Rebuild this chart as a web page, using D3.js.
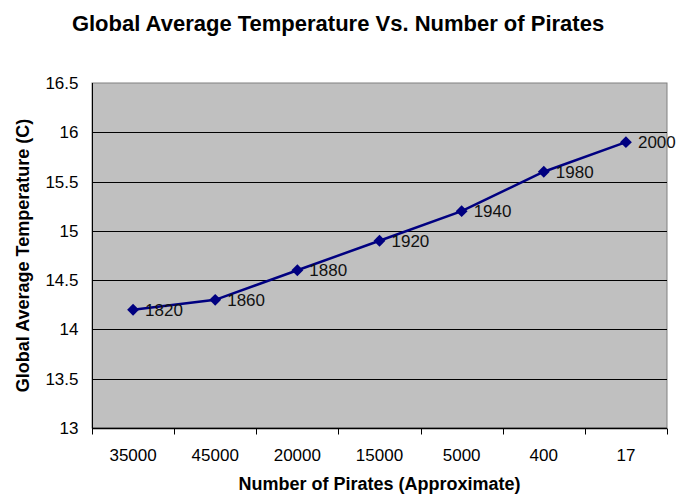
<!DOCTYPE html>
<html>
<head>
<meta charset="utf-8">
<script src="https://cdn.jsdelivr.net/npm/d3@7"></script>
<style>
  html, body { margin: 0; padding: 0; background: #fff; }
  svg { display: block; font-family: "Liberation Sans", Arial, sans-serif; }
</style>
</head>
<body>
<svg id="chart" width="677" height="498"></svg>
<script>
// Pirate counts (category labels), temperatures and the year of each point
const pirateCounts = ["35000", "45000", "20000", "15000", "5000", "400", "17"];
const temperatures = [14.2, 14.3, 14.6, 14.9, 15.2, 15.6, 15.9];
const years = ["1820", "1860", "1880", "1920", "1940", "1980", "2000"];
const yTicks = [13, 13.5, 14, 14.5, 15, 15.5, 16, 16.5];

const svg = d3.select("#chart");
const plot = { left: 92, right: 667, top: 83, bottom: 428 };

const x = d3.scaleBand().domain(pirateCounts).range([plot.left, plot.right]).padding(0);
const y = d3.scaleLinear().domain([13, 16.5]).range([plot.bottom, plot.top]);

// Title
svg.append("text")
  .attr("x", 338).attr("y", 31)
  .attr("text-anchor", "middle")
  .attr("font-size", 22).attr("font-weight", "bold")
  .text("Global Average Temperature Vs. Number of Pirates");

// Plot background
svg.append("rect")
  .attr("x", plot.left).attr("y", plot.top)
  .attr("width", plot.right - plot.left).attr("height", plot.bottom - plot.top)
  .attr("fill", "#c0c0c0").attr("stroke", "#808080").attr("stroke-width", 1);

// Horizontal gridlines
svg.append("g").selectAll("line")
  .data(yTicks.slice(1, -1))
  .join("line")
  .attr("x1", plot.left).attr("x2", plot.right)
  .attr("y1", d => Math.round(y(d)) + 0.5).attr("y2", d => Math.round(y(d)) + 0.5)
  .attr("stroke", "#000").attr("stroke-width", 1);

// Y axis
const yAxis = svg.append("g")
  .attr("transform", `translate(${plot.left + 0.5},0)`)
  .call(d3.axisLeft(y).tickValues(yTicks).tickSize(6).tickPadding(8)
    .tickFormat(d3.format("")));
yAxis.select(".domain").attr("stroke", "#000").attr("d", `M0,${plot.top}V${plot.bottom}`);
yAxis.selectAll(".tick line").attr("stroke", "#000").attr("x1", -6);
yAxis.selectAll(".tick").attr("transform", d => `translate(0,${Math.round(y(d)) + 0.5})`);
yAxis.selectAll("text").attr("font-size", 17).attr("font-family", "Liberation Sans, Arial, sans-serif")
  .attr("fill", "#000");

// X axis with ticks between categories
const xAxis = svg.append("g")
  .attr("transform", `translate(0,${plot.bottom + 0.5})`);
xAxis.append("line")
  .attr("x1", plot.left).attr("x2", plot.right)
  .attr("stroke", "#000").attr("stroke-width", 1.5);
const boundaries = pirateCounts.map(d => x(d)).concat([plot.right]);
xAxis.selectAll("line.tickmark")
  .data(boundaries)
  .join("line").attr("class", "tickmark")
  .attr("x1", d => Math.round(d) + 0.5).attr("x2", d => Math.round(d) + 0.5)
  .attr("y1", 0).attr("y2", 6)
  .attr("stroke", "#000");
xAxis.selectAll("text")
  .data(pirateCounts)
  .join("text")
  .attr("x", d => x(d) + x.bandwidth() / 2)
  .attr("y", 32)
  .attr("text-anchor", "middle")
  .attr("font-size", 17)
  .text(d => d);

// Axis titles
svg.append("text")
  .attr("x", (plot.left + plot.right) / 2).attr("y", 490)
  .attr("text-anchor", "middle")
  .attr("font-size", 18).attr("font-weight", "bold")
  .text("Number of Pirates (Approximate)");
svg.append("text")
  .attr("transform", `translate(29,${(plot.top + plot.bottom) / 2}) rotate(-90)`)
  .attr("text-anchor", "middle")
  .attr("font-size", 18).attr("font-weight", "bold")
  .text("Global Average Temperature (C)");

// Series line
const points = pirateCounts.map((c, i) => ({ c, t: temperatures[i], yr: years[i] }));
const cx = d => x(d.c) + x.bandwidth() / 2;
svg.append("path")
  .datum(points)
  .attr("fill", "none").attr("stroke", "#000080").attr("stroke-width", 2.5)
  .attr("d", d3.line().x(cx).y(d => y(d.t)));

// Diamond markers
svg.append("g").selectAll("path")
  .data(points)
  .join("path")
  .attr("transform", d => `translate(${cx(d)},${y(d.t)})`)
  .attr("d", d3.symbol(d3.symbolDiamond2, 90))
  .attr("fill", "#000080");

// Year labels
svg.append("g").selectAll("text")
  .data(points)
  .join("text")
  .attr("x", d => cx(d) + 12)
  .attr("y", d => y(d.t) + 6)
  .attr("font-size", 17)
  .attr("fill", "#111")
  .text(d => d.yr);
</script>
</body>
</html>
